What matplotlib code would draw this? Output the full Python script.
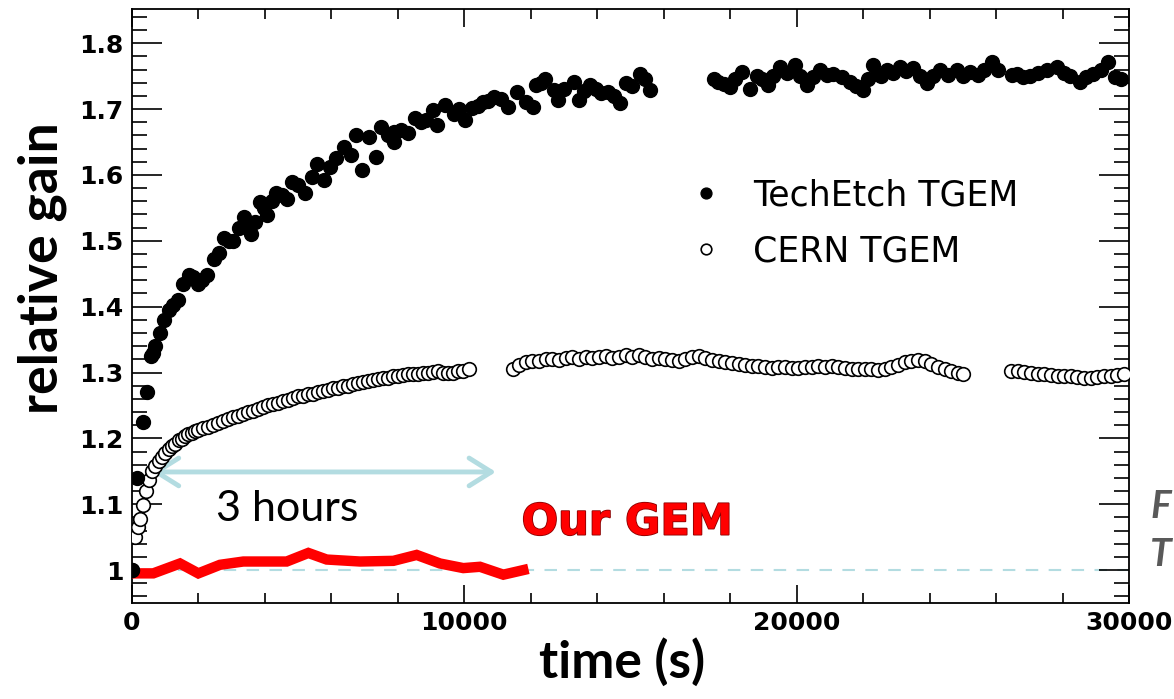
import matplotlib
matplotlib.use("Agg")
import matplotlib.pyplot as plt
from matplotlib.ticker import MultipleLocator, FixedLocator, FuncFormatter
import matplotlib.patheffects as pe

# ---------------- data ----------------
tech_t = [0, 150, 330, 450, 560, 640, 700, 840, 959, 1100, 1227, 1388, 1549, 1710, 1850, 1978,
          2120, 2246, 2460, 2622, 2783, 2920, 3051, 3212, 3373, 3500, 3587, 3694, 3855, 3960,
          4070, 4200, 4338, 4500, 4660, 4821, 5000, 5196, 5411, 5572, 5786, 5947, 6150,
          6376, 6590, 6752, 6913, 7127, 7342, 7503, 7700, 7878, 7878, 8100, 8308, 8522,
          8700, 8843, 9058, 9165, 9433, 9701, 9850, 10023, 10237, 10400, 10559, 10720,
          10881, 11100, 11310, 11579, 11847, 12061, 12168, 12300, 12437, 12705, 12812,
          13000, 13294, 13455, 13600, 13777, 13950, 14100, 14314, 14500, 14690, 14850,
          15050, 15280, 15450, 15601,
          17500, 17643, 17800, 17994, 18150, 18345, 18596, 18797, 18950, 19147, 19300,
          19499, 19700, 19950, 20100, 20301, 20500, 20702, 20900, 21103, 21350, 21605,
          21800, 22006, 22150, 22307, 22407, 22550, 22708, 22900, 23109, 23300, 23510,
          23700, 23911, 24100, 24312, 24550, 24814, 25000, 25215, 25450, 25650, 25867,
          26068,
          26480, 26620, 26800, 27021, 27250, 27522, 27823, 28050, 28224, 28525, 28700,
          28926, 29150, 29378, 29578, 29750]
tech_g = [1.000, 1.140, 1.225, 1.270, 1.325, 1.330, 1.340, 1.360, 1.380, 1.395, 1.402, 1.410,
          1.435, 1.448, 1.445, 1.435, 1.440, 1.448, 1.473, 1.481, 1.504, 1.500, 1.499, 1.519,
          1.536, 1.525, 1.511, 1.529, 1.559, 1.550, 1.539, 1.560, 1.572, 1.570, 1.564,
          1.590, 1.585, 1.572, 1.597, 1.617, 1.592, 1.612, 1.625, 1.643, 1.630, 1.660,
          1.607, 1.658, 1.627, 1.673, 1.660, 1.665, 1.650, 1.668, 1.663, 1.686, 1.680,
          1.683, 1.698, 1.676, 1.706, 1.693, 1.700, 1.683, 1.701, 1.705, 1.711, 1.712,
          1.719, 1.715, 1.703, 1.726, 1.711, 1.703, 1.736, 1.740, 1.746, 1.729, 1.714,
          1.730, 1.741, 1.714, 1.728, 1.736, 1.730, 1.724, 1.726, 1.720, 1.709, 1.739,
          1.735, 1.754, 1.745, 1.729,
          1.745, 1.741, 1.738, 1.734, 1.745, 1.756, 1.731, 1.751, 1.745, 1.736, 1.750,
          1.764, 1.755, 1.767, 1.750, 1.736, 1.748, 1.759, 1.752, 1.754, 1.748, 1.741,
          1.735, 1.729, 1.745, 1.767, 1.754, 1.750, 1.759, 1.755, 1.764, 1.758, 1.762,
          1.750, 1.739, 1.750, 1.759, 1.752, 1.759, 1.750, 1.756, 1.752, 1.760, 1.772,
          1.759,
          1.752, 1.754, 1.748, 1.751, 1.755, 1.759, 1.764, 1.755, 1.751, 1.741, 1.748,
          1.754, 1.760, 1.772, 1.749, 1.745]

cern_t = [0, 90, 180, 250, 330, 420, 500, 600, 700, 800, 900, 1000, 1100, 1200, 1300, 1400,
          1500, 1600, 1700, 1800, 1900, 2000, 2150, 2300, 2450, 2600, 2750, 2900, 3050,
          3200, 3350, 3500, 3650, 3800, 3950, 4100, 4250, 4400, 4550, 4700, 4850, 5000,
          5150, 5300, 5450, 5600, 5750, 5900, 6050, 6200, 6350, 6500, 6650, 6800, 6950,
          7100, 7250, 7400, 7550, 7700, 7850, 8000, 8150, 8300, 8450, 8600, 8750, 8900,
          9050, 9200, 9350, 9500, 9650, 9800, 9950, 10150,
          11450, 11650, 11850, 12050, 12250, 12450, 12650, 12850, 13050, 13250, 13450,
          13650, 13850, 14050, 14250, 14450, 14650, 14850, 15050, 15250, 15450, 15650,
          15850, 16050, 16250, 16450, 16650, 16850, 17050, 17250, 17450, 17650, 17850,
          18050, 18250, 18450, 18650, 18850, 19050, 19250, 19450, 19650, 19850, 20050,
          20250, 20450, 20650, 20850, 21050, 21250, 21450, 21650, 21850, 22050, 22250,
          22450, 22650, 22850, 23050, 23250, 23450, 23650, 23850, 24050, 24250, 24450,
          24650, 24850, 25000,
          26450, 26650, 26850, 27050, 27250, 27450, 27650, 27850, 28050, 28250, 28450,
          28650, 28850, 29050, 29250, 29450, 29650, 29850]
cern_g = [1.000, 1.050, 1.065, 1.078, 1.099, 1.120, 1.137, 1.150, 1.158, 1.165, 1.172, 1.178,
          1.184, 1.188, 1.192, 1.197, 1.199, 1.203, 1.206, 1.208, 1.211, 1.213, 1.215,
          1.218, 1.221, 1.224, 1.226, 1.229, 1.232, 1.234, 1.237, 1.240, 1.242, 1.244,
          1.247, 1.250, 1.252, 1.254, 1.257, 1.259, 1.262, 1.264, 1.265, 1.267, 1.268,
          1.271, 1.272, 1.274, 1.276, 1.277, 1.279, 1.280, 1.282, 1.284, 1.286, 1.287,
          1.289, 1.290, 1.291, 1.292, 1.294, 1.295, 1.296, 1.297, 1.298, 1.298, 1.299,
          1.300, 1.301, 1.302, 1.300, 1.299, 1.300, 1.302, 1.303, 1.305,
          1.305, 1.312, 1.316, 1.318, 1.318, 1.320, 1.321, 1.319, 1.322, 1.323, 1.321,
          1.324, 1.322, 1.323, 1.325, 1.322, 1.324, 1.326, 1.323, 1.327, 1.324, 1.321,
          1.322, 1.320, 1.319, 1.318, 1.321, 1.323, 1.325, 1.322, 1.319, 1.318, 1.316,
          1.314, 1.313, 1.311, 1.310, 1.310, 1.309, 1.307, 1.308, 1.309, 1.307, 1.307,
          1.308, 1.309, 1.310, 1.309, 1.310, 1.308, 1.307, 1.306, 1.305, 1.306, 1.305,
          1.304, 1.306, 1.309, 1.312, 1.316, 1.318, 1.319, 1.317, 1.313, 1.309, 1.306,
          1.303, 1.300, 1.298,
          1.303, 1.302, 1.301, 1.300, 1.298, 1.298, 1.296, 1.295, 1.294, 1.294, 1.293,
          1.292, 1.292, 1.293, 1.294, 1.295, 1.296, 1.297]

our_t = [0, 640, 1444, 1996, 2648, 3350, 4655, 5306, 5858, 6861, 7864, 8565, 9267, 9969,
         10471, 11173, 11775]
our_g = [0.995, 0.995, 1.010, 0.995, 1.008, 1.013, 1.013, 1.026, 1.016, 1.013, 1.014,
         1.023, 1.010, 1.003, 1.005, 0.993, 1.000]

x_ticks = [0, 10000, 20000, 30000]
y_ticks = [1.0, 1.1, 1.2, 1.3, 1.4, 1.5, 1.6, 1.7, 1.8]
labels = ["TechEtch TGEM", "CERN TGEM"]

# ---------------- figure ----------------
W, H = 1174, 699
fig = plt.figure(figsize=(W / 100, H / 100), dpi=100)
ax = fig.add_axes([132 / W, 1 - 603 / H, (1129 - 132) / W, (603 - 9) / H])

cyan = "#b3dce1"
ax.axhline(1.0, color=cyan, lw=1.5, ls=(0, (6, 5)), zorder=1)

ax.plot(our_t, our_g, color="#ff0000", lw=7.5, solid_joinstyle="miter", zorder=3)

h2, = ax.plot(cern_t, cern_g, ls="none", marker="o", ms=9.8, mfc="white", mec="black",
              mew=1.2, zorder=4)
h1, = ax.plot(tech_t, tech_g, ls="none", marker="o", ms=10, mfc="black", mec="black",
              zorder=5)

ax.set_xlim(0, 30000)
ax.set_ylim(0.95, 1.852)

ax.xaxis.set_major_locator(FixedLocator(x_ticks))
ax.xaxis.set_minor_locator(MultipleLocator(2000))
ax.yaxis.set_major_locator(FixedLocator(y_ticks))
ax.yaxis.set_minor_locator(MultipleLocator(0.02))
ax.xaxis.set_major_formatter(FuncFormatter(lambda v, p: f"{int(v)}"))
ax.yaxis.set_major_formatter(FuncFormatter(lambda v, p: "1" if abs(v - 1) < 1e-9 else f"{v:.1f}"))

ax.tick_params(axis="both", which="both", direction="in", top=True, right=True,
               width=1.2, color="black")
ax.tick_params(axis="y", which="major", length=21.5)
ax.tick_params(axis="y", which="minor", length=10.8)
ax.tick_params(axis="x", which="major", length=13)
ax.tick_params(axis="x", which="minor", length=7)
for lab in ax.get_xticklabels() + ax.get_yticklabels():
    lab.set_fontfamily("DejaVu Sans")
    lab.set_fontweight("bold")
    lab.set_fontsize(18)
ax.tick_params(axis="x", pad=6)
ax.tick_params(axis="y", pad=6)
for s in ax.spines.values():
    s.set_linewidth(1.3)

fig.text(622 / W, 1 - 662 / H, "time (s)", fontfamily="Lato", fontweight="bold", fontsize=37,
         ha="center", va="center")
fig.text(42 / W, 1 - 268 / H, "relative gain", fontfamily="Lato", fontweight="bold",
         fontsize=38.5, rotation=90, ha="center", va="center")

leg = ax.legend([h1, h2], labels, loc="upper left", bbox_to_anchor=(0.525, 0.768),
                frameon=False, prop={"family": "DejaVu Sans", "size": 25},
                handlelength=1.1, handletextpad=0.8, labelspacing=0.65, markerscale=0.78)

ax.annotate("", xy=(600, 1.149), xytext=(10950, 1.149),
            arrowprops=dict(arrowstyle="<->,head_length=0.8,head_width=0.5", color=cyan,
                            lw=3.5, mutation_scale=20, shrinkA=0, shrinkB=0))
ax.text(4665, 1.093, "3 hours", fontfamily="Lato", fontsize=31, ha="center", va="center")
ax.text(14896, 1.072, "Our GEM", fontfamily="DejaVu Sans", fontweight="bold", fontsize=31,
        color="#ff0000", ha="center", va="center",
        path_effects=[pe.withStroke(linewidth=1.2, foreground="#8b0000")])

fig.text(1150 / W, 1 - 506 / H, "F", fontfamily="Lato", fontstyle="italic", fontweight="bold",
         fontsize=28, color="#595959", ha="left", va="center")
fig.text(1150 / W, 1 - 555 / H, "T", fontfamily="Lato", fontstyle="italic", fontweight="bold",
         fontsize=28, color="#595959", ha="left", va="center")

fig.savefig("out.png", dpi=100)
